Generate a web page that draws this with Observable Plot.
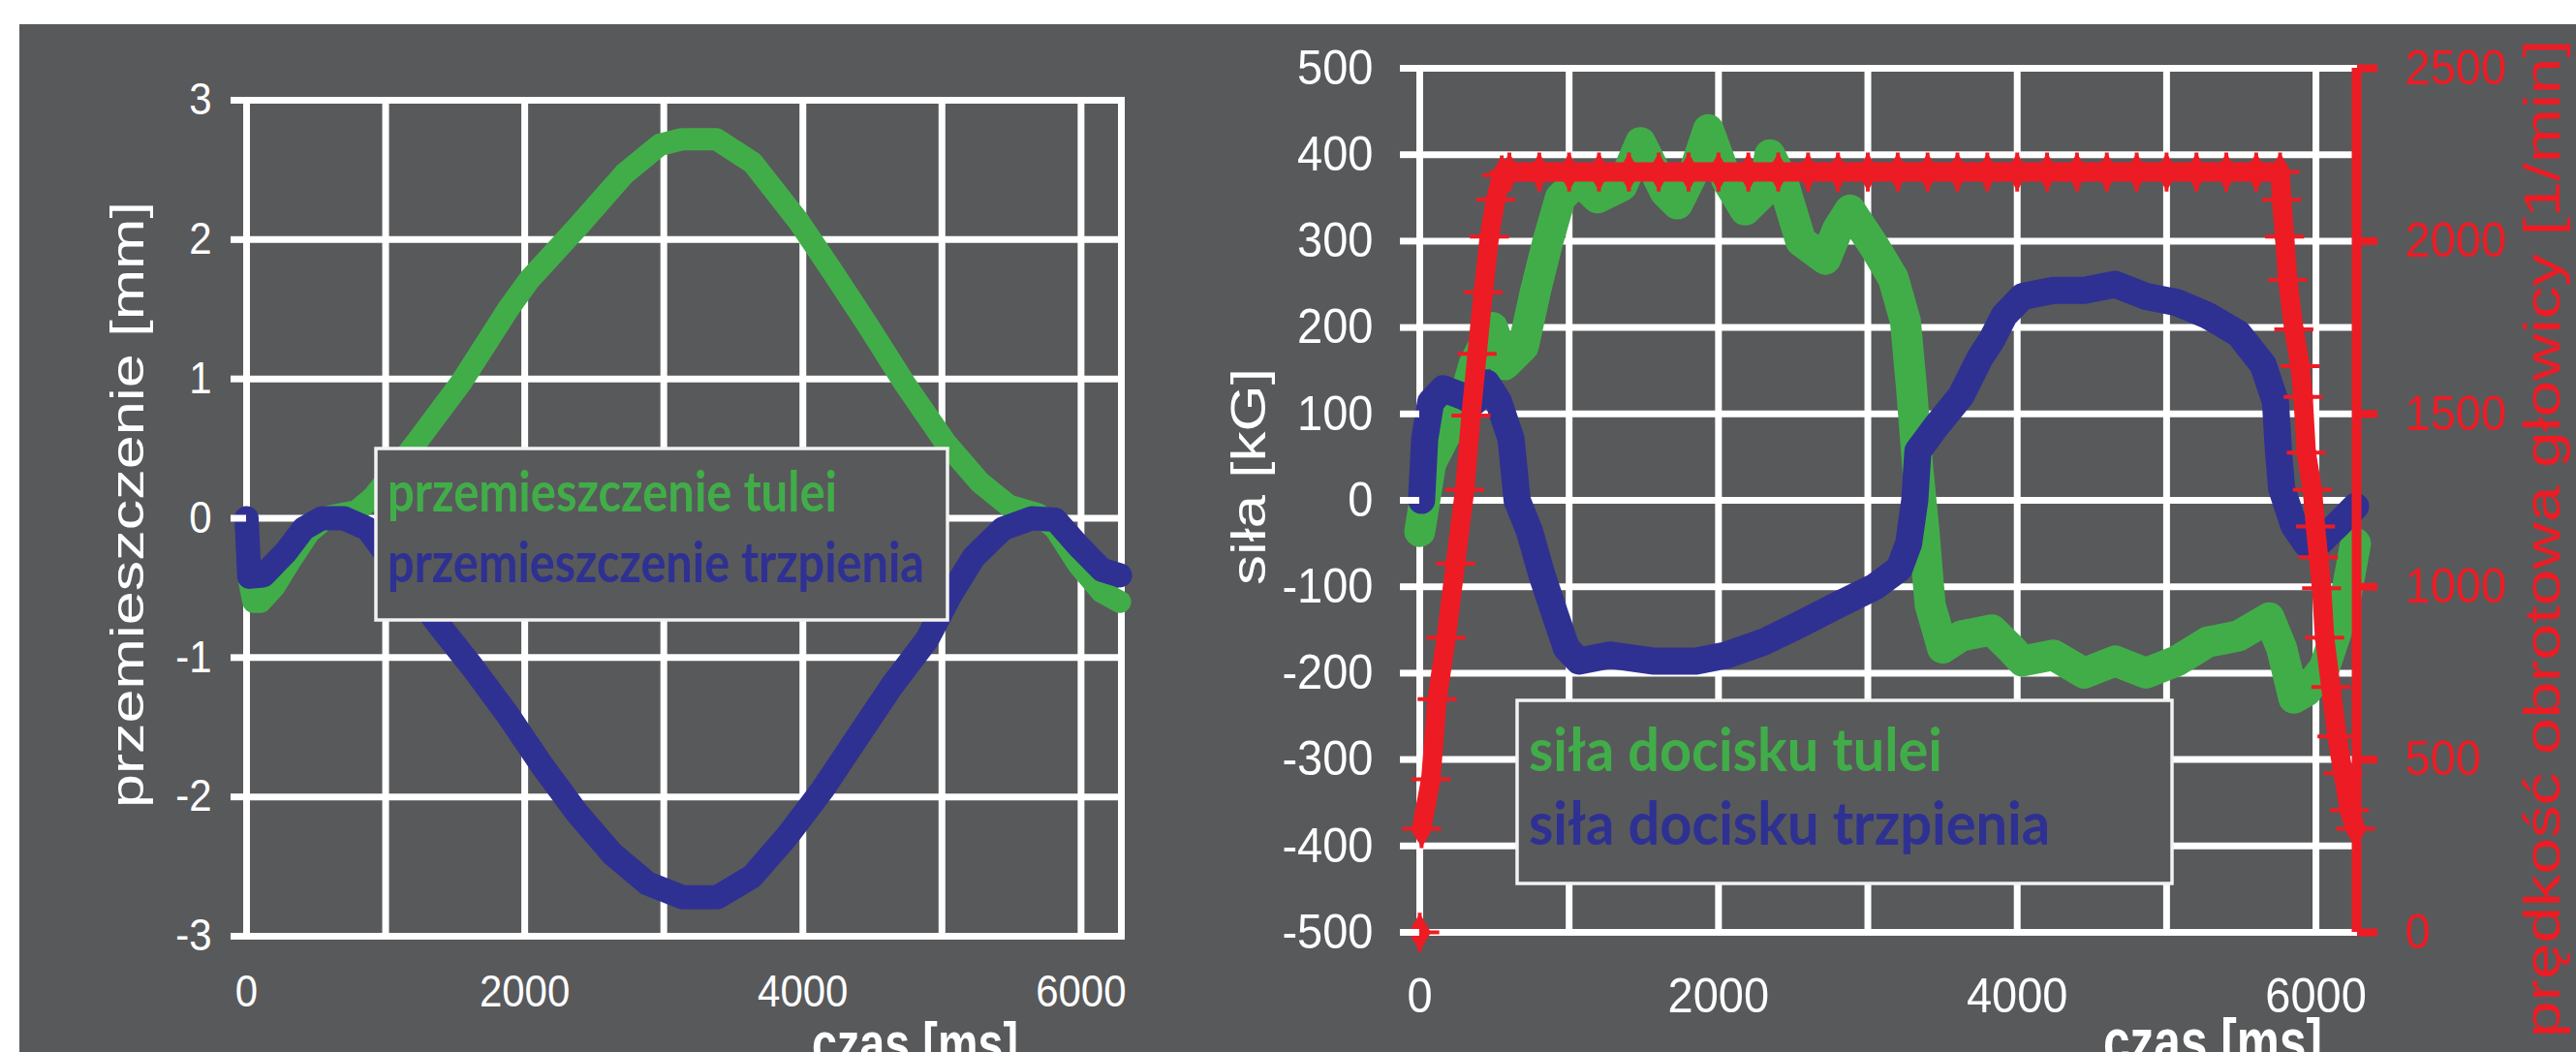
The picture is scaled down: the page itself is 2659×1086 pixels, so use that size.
<!DOCTYPE html>
<html><head><meta charset="utf-8">
<script src="https://cdn.jsdelivr.net/npm/d3@7"></script>
<script src="https://cdn.jsdelivr.net/npm/@observablehq/plot@0.6"></script>
<style>
html,body{margin:0;padding:0;background:#fff;width:2659px;height:1086px;overflow:hidden;}
#panel{position:absolute;left:20px;top:25px;width:2639px;height:1061px;background:#58595b;}
#left{position:absolute;left:20px;top:25px;}
#right{position:absolute;left:1240px;top:25px;}
#overlay{position:absolute;left:0;top:0;pointer-events:none;}
</style></head><body>
<div id="panel"></div><div id="left"></div><div id="right"></div>
<svg id="overlay" width="2659" height="1086"></svg>
<script>
// ---------- data ----------
const xGridTicks = [0, 1000, 2000, 3000, 4000, 5000, 6000];
const xLabelTicks = [0, 2000, 4000, 6000];
const dispTicks = [-3, -2, -1, 0, 1, 2, 3];
const forceTicks = [-500, -400, -300, -200, -100, 0, 100, 200, 300, 400, 500];
const speedTicks = [0, 500, 1000, 1500, 2000, 2500];

// left chart: przemieszczenie [mm]
const tTulei = [0, 20, 50, 100, 200, 330, 450, 580, 790, 910, 1210, 1540, 1880, 2040, 2380, 2715, 2970, 3130, 3380, 3640, 3970, 4220, 4470, 4730, 5020, 5270, 5480, 5690, 5815, 5980, 6150, 6280];
const przemTulei = [0, -0.45, -0.6, -0.6, -0.49, -0.28, -0.1, 0.01, 0.05, 0.15, 0.53, 0.97, 1.5, 1.72, 2.09, 2.47, 2.68, 2.72, 2.72, 2.55, 2.13, 1.76, 1.38, 0.97, 0.55, 0.26, 0.09, 0.03, -0.075, -0.33, -0.53, -0.6];
const tTrzpien = [0, 20, 120, 285, 410, 540, 700, 870, 1370, 1625, 1877, 2128, 2380, 2631, 2882, 3133, 3385, 3636, 3888, 4139, 4390, 4642, 4893, 5061, 5228, 5438, 5647, 5815, 5982, 6150, 6280];
const przemTrzpien = [0, -0.42, -0.41, -0.24, -0.075, 0, 0, -0.075, -0.75, -1.07, -1.41, -1.78, -2.12, -2.41, -2.62, -2.72, -2.72, -2.57, -2.28, -1.95, -1.575, -1.2, -0.87, -0.55, -0.28, -0.075, 0, -0.01, -0.2, -0.37, -0.41];

// right chart: siła [kG]
const tSilaTulei = [0, 74, 157, 281, 363, 487, 570, 693, 776, 858, 941, 1065, 1189, 1354, 1478, 1643, 1725, 1849, 1932, 2055, 2179, 2303, 2344, 2427, 2551, 2716, 2799, 2881, 3046, 3170, 3252, 3293, 3335, 3376, 3417, 3500, 3624, 3830, 3954, 4036, 4243, 4449, 4656, 4862, 5068, 5274, 5481, 5687, 5770, 5852, 5935, 6058, 6182, 6265];
const silaTulei = [-36, 43, 71, 107, 157, 200, 157, 178, 243, 300, 350, 371, 350, 364, 414, 357, 343, 386, 429, 371, 336, 357, 400, 371, 300, 279, 314, 336, 293, 257, 207, 129, 36, -36, -121, -171, -157, -150, -171, -186, -179, -200, -186, -200, -186, -164, -157, -136, -171, -229, -221, -193, -129, -50];
const tSilaTrzpien = [12, 33, 74, 157, 281, 363, 446, 528, 611, 652, 735, 817, 900, 982, 1065, 1271, 1560, 1849, 2055, 2303, 2551, 2799, 3046, 3211, 3273, 3314, 3335, 3459, 3624, 3748, 3830, 3913, 4036, 4243, 4449, 4656, 4862, 5068, 5274, 5481, 5646, 5729, 5749, 5770, 5852, 5935, 6017, 6141, 6265];
const silaTrzpien = [0, 71, 114, 129, 121, 114, 136, 114, 71, 0, -36, -86, -129, -171, -186, -179, -186, -186, -179, -164, -143, -121, -100, -79, -50, 0, 57, 86, 121, 164, 186, 214, 236, 243, 243, 250, 236, 229, 214, 193, 157, 114, 57, 14, -29, -50, -50, -29, -7];

// right chart: prędkość obrotowa głowicy [1/min]
const tPredkosc = [0, 12, 74, 116, 177, 239, 301, 343, 384, 425, 466, 508, 549, 600, 800, 1000, 1200, 1400, 1600, 1800, 2000, 2200, 2400, 2600, 2800, 3000, 3200, 3400, 3600, 3800, 4000, 4200, 4400, 4600, 4800, 5000, 5200, 5400, 5600, 5760, 5770, 5790, 5811, 5852, 5894, 5914, 5935, 5976, 5997, 6017, 6038, 6058, 6100, 6141, 6182, 6224, 6265];
const predkosc = [0, 300, 443, 675, 853, 1067, 1281, 1495, 1674, 1852, 2013, 2120, 2191, 2200, 2200, 2200, 2200, 2200, 2200, 2200, 2200, 2200, 2200, 2200, 2200, 2200, 2200, 2200, 2200, 2200, 2200, 2200, 2200, 2200, 2200, 2200, 2200, 2200, 2200, 2200, 2120, 2013, 1888, 1745, 1638, 1549, 1388, 1281, 1174, 1085, 996, 853, 710, 567, 460, 353, 300];

// texts
const leftYTitle = "przemieszczenie [mm]";
const rightYTitle = "siła [kG]";
const speedTitle = "prędkość obrotowa głowicy [1/min]";
const xTitle = "czas [ms]";
const leftLegend = ["przemieszczenie tulei", "przemieszczenie trzpienia"];
const rightLegend = ["siła docisku tulei", "siła docisku trzpienia"];

// ---------- styles ----------
const BG = "#58595b", WHITE = "#ffffff", GREEN = "#41ad49", BLUE = "#2e3192", RED = "#ed1c24";
const FONT = "'Liberation Sans', Arial, Helvetica, sans-serif";
const LFONT = "Lato, 'Open Sans', sans-serif";
const fmt = d => String(d);
const rows = (ts, vs) => ts.map((t, i) => ({t, v: vs[i]}));
const speedToForce = rpm => rpm / 2.5 - 500;
const forceToSpeed = f => String(Math.round((f + 500) * 2.5));

function stretch(svg, sy) {
  d3.select(svg).selectAll("text").each(function() {
    const tr = this.getAttribute("transform") || "";
    this.setAttribute("transform", tr + ` scale(1,${sy})`);
  });
}

const gridStyle = {stroke: WHITE, strokeOpacity: 1, strokeWidth: 7};

// ---------- left chart ----------
const leftDomainX = [0, 6290];
const left = Plot.plot({
  width: 1220, height: 1061,
  marginLeft: 234, marginRight: 83, marginTop: 78, marginBottom: 120,
  style: {background: "transparent", color: WHITE, fontFamily: FONT, overflow: "visible"},
  x: {domain: leftDomainX},
  y: {domain: [-3, 3]},
  marks: [
    Plot.gridX(xGridTicks, gridStyle),
    Plot.gridY(dispTicks, gridStyle),
    Plot.frame({stroke: WHITE, strokeWidth: 7}),
    Plot.line(rows(tTulei, przemTulei), {x: "t", y: "v", stroke: GREEN, strokeWidth: 23}),
    Plot.line(rows(tTrzpien, przemTrzpien), {x: "t", y: "v", stroke: BLUE, strokeWidth: 25}),
    Plot.axisY(dispTicks, {tickSize: 16, tickPadding: 20, strokeWidth: 7, fontSize: 42, tickFormat: fmt, label: null, color: WHITE}),
    Plot.axisX(xLabelTicks, {tickSize: 0, tickPadding: 40, fontSize: 42, tickFormat: fmt, label: null, color: WHITE})
  ]
});
stretch(left, 1.1);
document.getElementById("left").appendChild(left);

// ---------- right chart ----------
const rightDomainX = [0, 6272];
const predRows = rows(tPredkosc, predkosc);
const right = Plot.plot({
  width: 1419, height: 1061,
  marginLeft: 225, marginRight: 227, marginTop: 45, marginBottom: 124,
  style: {background: "transparent", color: WHITE, fontFamily: FONT, overflow: "visible"},
  x: {domain: rightDomainX},
  y: {domain: [-500, 500]},
  marks: [
    Plot.gridX(xGridTicks, gridStyle),
    Plot.gridY(forceTicks, gridStyle),
    Plot.frame({stroke: WHITE, strokeWidth: 7}),
    Plot.line(rows(tSilaTulei, silaTulei), {x: "t", y: "v", stroke: GREEN, strokeWidth: 32}),
    Plot.line(rows(tSilaTrzpien, silaTrzpien), {x: "t", y: "v", stroke: BLUE, strokeWidth: 28}),
    Plot.line(predRows.slice(1), {x: "t", y: d => speedToForce(d.v), stroke: RED, strokeWidth: 20}),
    Plot.dot(predRows, {x: "t", y: d => speedToForce(d.v), symbol: "diamond", r: 12, fill: RED}),
    Plot.dot(predRows, {x: "t", y: d => speedToForce(d.v), symbol: "plus", r: 13, stroke: RED, strokeWidth: 4}),
    Plot.ruleX([rightDomainX[1]], {stroke: RED, strokeWidth: 10}),
    Plot.axisY(forceTicks, {tickSize: 20, tickPadding: 28, strokeWidth: 7, fontSize: 47, tickFormat: fmt, label: null, color: WHITE}),
    Plot.axisY(speedTicks.map(speedToForce), {anchor: "right", tickSize: 21, tickPadding: 29, strokeWidth: 8, fontSize: 47, tickFormat: forceToSpeed, label: null, color: RED}),
    Plot.axisX(xLabelTicks, {tickSize: 0, tickPadding: 46, fontSize: 47, tickFormat: fmt, label: null, color: WHITE})
  ]
});
stretch(right, 1.08);
document.getElementById("right").appendChild(right);

// ---------- overlay: titles and legends ----------
const ov = d3.select("#overlay");
function vtext(str, x, y, size, len, color) {
  ov.append("text").attr("transform", `translate(${x},${y}) rotate(-90)`)
    .attr("text-anchor", "middle").attr("font-family", FONT).attr("font-size", size)
    .attr("fill", color).attr("textLength", len).attr("lengthAdjust", "spacingAndGlyphs").text(str);
}
vtext(leftYTitle, 148, 521, 49, 626, WHITE);
vtext(rightYTitle, 1306, 492, 50, 224, WHITE);
vtext(speedTitle, 2642, 556, 52, 1030, RED);

function xtitle(x, y, size, len) {
  ov.append("text").attr("transform", `translate(${x},${y}) scale(1,1.28)`)
    .attr("font-family", FONT).attr("font-weight", "bold").attr("font-size", size)
    .attr("fill", WHITE).attr("textLength", len).attr("lengthAdjust", "spacingAndGlyphs").text(xTitle);
}
xtitle(838, 1097, 46, 213);
xtitle(2171, 1097, 50, 226);

function legend(box, items) {
  ov.append("rect").attr("x", box.x).attr("y", box.y).attr("width", box.w).attr("height", box.h)
    .attr("fill", BG).attr("stroke", "#f2f2f2").attr("stroke-width", 3.5);
  items.forEach(it => {
    ov.append("text").attr("x", it.x).attr("y", it.y).attr("font-family", LFONT).attr("font-weight", "bold")
      .attr("font-size", it.size).attr("fill", it.color).attr("textLength", it.len)
      .attr("lengthAdjust", "spacingAndGlyphs").text(it.text);
  });
}
legend({x: 388, y: 463, w: 590, h: 177}, [
  {text: leftLegend[0], x: 400, y: 528, size: 57, len: 464, color: GREEN},
  {text: leftLegend[1], x: 400, y: 601, size: 57, len: 554, color: BLUE}
]);
legend({x: 1566, y: 723, w: 676, h: 189}, [
  {text: rightLegend[0], x: 1578, y: 796, size: 62, len: 427, color: GREEN},
  {text: rightLegend[1], x: 1578, y: 872, size: 62, len: 538, color: BLUE}
]);
</script></body></html>
